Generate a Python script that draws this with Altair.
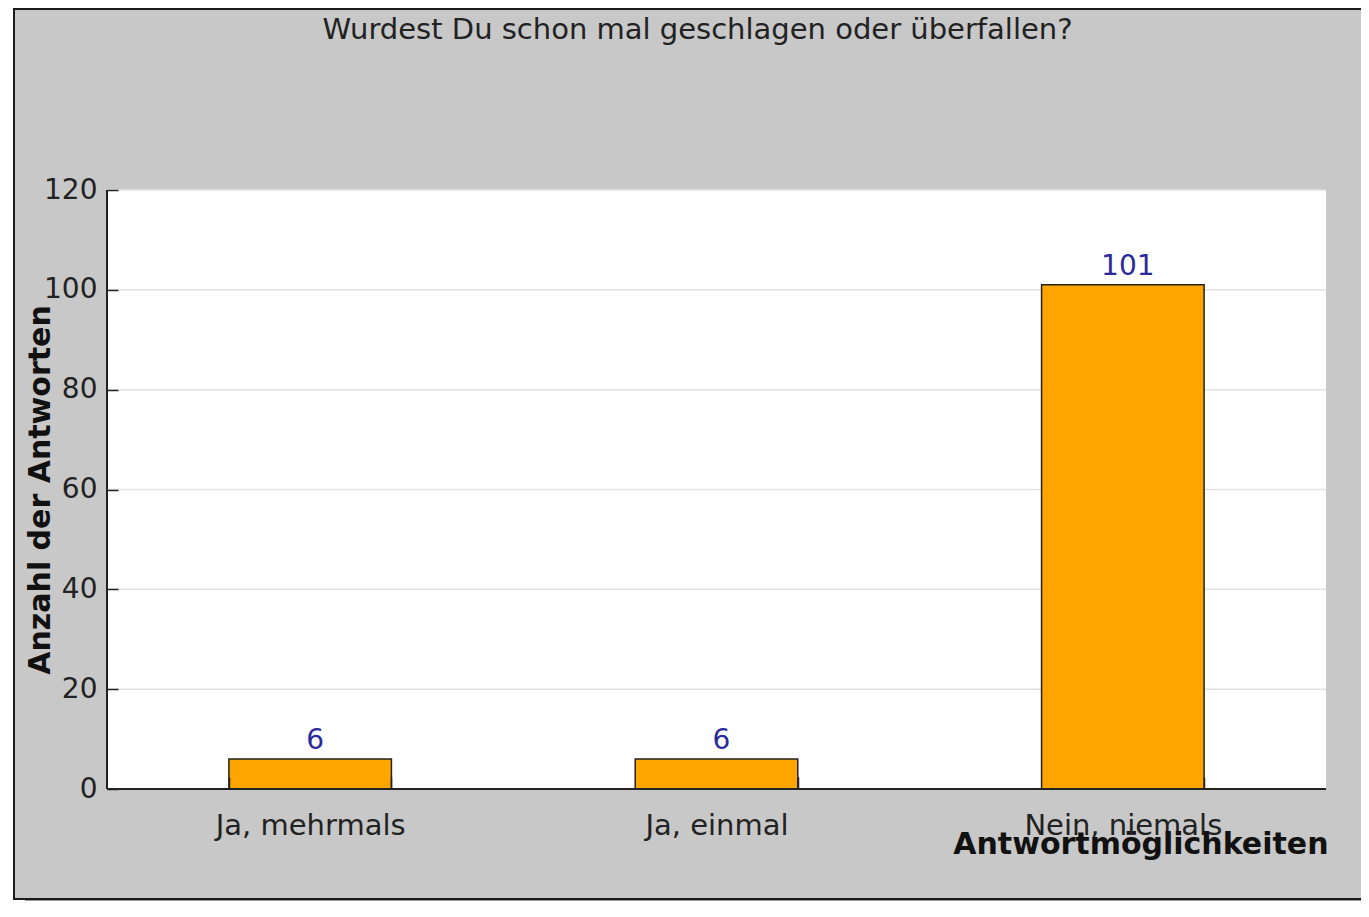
import altair as alt
import pandas as pd

categories = ["Ja, mehrmals", "Ja, einmal", "Nein, niemals"]
values = [6, 6, 101]
y_ticks = [0, 20, 40, 60, 80, 100, 120]

title_text = "Wurdest Du schon mal geschlagen oder überfallen?"
x_title = "Antwortmöglichkeiten"
y_title = "Anzahl der Antworten"

df = pd.DataFrame({"cat": categories, "val": values})
one = pd.DataFrame({"a": [0]})
grid_df = pd.DataFrame({"val": y_ticks[1:]})

W, H = 1219, 599
FONT = "DejaVu Sans"

xenc = alt.X(
    "cat:N",
    sort=categories,
    scale=alt.Scale(paddingInner=0.6, paddingOuter=0.3),
    axis=alt.Axis(
        offset=-12, tickSize=12, tickBand="extent", domain=False, grid=False,
        labelFontSize=29, labelPadding=22, labelColor="#222", labelAngle=0, labelLimit=0,
        tickColor="#222", tickWidth=1.5, zindex=1,
        title=x_title, titleFontSize=30, titleFontWeight="bold", titleColor="#111",
        titleX=W + 2, titleY=76, titleAlign="right", titleBaseline="alphabetic",
    ),
)
yscale = alt.Scale(domain=[0, 120], nice=False)
yenc = alt.Y(
    "val:Q",
    scale=yscale,
    axis=alt.Axis(
        values=y_ticks, offset=-11, tickSize=11, domain=False, grid=False,
        labelFontSize=28, labelPadding=10, labelColor="#222",
        tickColor="#222", tickWidth=1.5, zindex=1,
        title=y_title, titleFontSize=30, titleFontWeight="bold", titleColor="#111",
        titleX=-78, titleY=H / 2, titleAngle=-90, titleAlign="center", titleBaseline="middle",
    ),
)

frame = alt.Chart(one).mark_rect(fill="#c8c8c8", stroke="#1a1a1a", strokeWidth=2).encode(
    x=alt.value(-93), x2=alt.value(1300), y=alt.value(-181), y2=alt.value(709)
)
shadow = alt.Chart(one).mark_rect(fill="#9a9a9a").encode(
    x=alt.value(-82), x2=alt.value(1300), y=alt.value(710), y2=alt.value(713)
)
plotbg = alt.Chart(one).mark_rect(fill="white").encode(
    x=alt.value(0), x2=alt.value(W), y=alt.value(0), y2=alt.value(H)
)
bars = alt.Chart(df).mark_bar(color="#ffa500", stroke="#222", strokeWidth=1.5).encode(
    x=xenc, y=yenc
)
grid = alt.Chart(grid_df).mark_rule(color="#e2e2e2", strokeWidth=1.5).encode(
    y=alt.Y("val:Q", scale=yscale),
    x=alt.value(0), x2=alt.value(W),
)
labels = alt.Chart(df).mark_text(
    baseline="alphabetic", dy=-10, dx=5, fontSize=28, color="#2a2a9c", font=FONT
).encode(x=alt.X("cat:N", sort=categories), y=alt.Y("val:Q"), text="val:Q")
left_dom = alt.Chart(one).mark_rule(color="#222", strokeWidth=2).encode(
    x=alt.value(0), y=alt.value(0), y2=alt.value(H)
)
bot_dom = alt.Chart(one).mark_rule(color="#222", strokeWidth=2).encode(
    x=alt.value(0), x2=alt.value(W), y=alt.value(H)
)

chart = alt.layer(frame, shadow, plotbg, bars, labels, left_dom, bot_dom, grid).properties(
    width=W, height=H,
    title=alt.TitleParams(title_text, fontSize=29, fontWeight="normal", color="#222",
                          anchor="middle", frame="group", dx=-19, offset=-37, font=FONT,
                          zindex=1),
    autosize=alt.AutoSizeParams(type="none"),
    padding={"left": 99, "top": 182, "right": 35, "bottom": 112},
    background="white",
).configure(font=FONT).configure_view(stroke=None, fill=None)

# draw gridlines beneath the bars while keeping the bars' axis definition first
chart = alt.LayerChart.from_dict(chart.to_dict())
layers = chart.layer
order = [0, 1, 2, 7, 3, 4, 5, 6]
chart.layer = [layers[i] for i in order]

chart.save("out.html", embed_options={"renderer": "svg", "actions": False})
